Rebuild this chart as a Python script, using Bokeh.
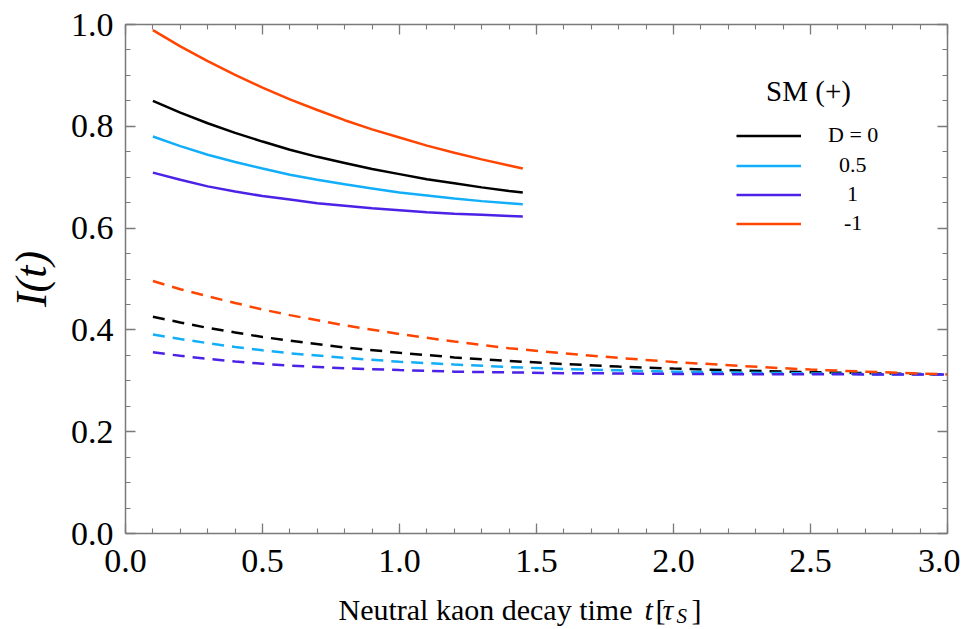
from bokeh.plotting import figure
from bokeh.layouts import column
from bokeh.models import (Range1d, LinearAxis, FixedTicker, PrintfTickFormatter,
                          CustomJSTickFormatter, Legend, LegendItem, Label)
from bokeh.embed import file_html
from bokeh.resources import INLINE

FONT = "Liberation Serif"

# ---------------- data ----------------
series_labels = ["D = 0", "0.5", "1", "-1"]
series_colors = ["#000000", "#12AEFA", "#4B22E6", "#FF4500"]

t_solid = [0.1, 0.2, 0.3, 0.4, 0.5, 0.6, 0.7, 0.8, 0.9, 1.0, 1.1, 1.2, 1.3, 1.4, 1.45]
solid_D0 = [0.850, 0.827, 0.806, 0.787, 0.770, 0.754, 0.740, 0.728, 0.716, 0.706, 0.696, 0.688, 0.680, 0.673, 0.670]
solid_D05 = [0.780, 0.761, 0.744, 0.730, 0.717, 0.705, 0.695, 0.686, 0.678, 0.670, 0.664, 0.658, 0.653, 0.649, 0.647]
solid_D1 = [0.709, 0.695, 0.682, 0.672, 0.663, 0.656, 0.649, 0.644, 0.639, 0.635, 0.631, 0.628, 0.626, 0.624, 0.623]
solid_Dm1 = [0.989, 0.957, 0.928, 0.901, 0.876, 0.853, 0.832, 0.812, 0.794, 0.778, 0.762, 0.748, 0.735, 0.723, 0.717]

t_dashed = [0.1, 0.2, 0.3, 0.4, 0.5, 0.6, 0.8, 1.0, 1.2, 1.4, 1.6, 1.8, 2.0, 2.25, 2.5, 2.75, 3.0]
dashed_D0 = [0.426, 0.4145, 0.404, 0.395, 0.386, 0.379, 0.3655, 0.355, 0.346, 0.339, 0.333, 0.328, 0.324, 0.320, 0.317, 0.3145, 0.3125]
dashed_D05 = [0.391, 0.382, 0.374, 0.3665, 0.360, 0.354, 0.345, 0.3375, 0.332, 0.327, 0.323, 0.3205, 0.318, 0.316, 0.3145, 0.313, 0.3125]
dashed_D1 = [0.356, 0.349, 0.343, 0.338, 0.3335, 0.330, 0.3245, 0.321, 0.318, 0.3165, 0.315, 0.3145, 0.3135, 0.313, 0.313, 0.3125, 0.3125]
dashed_Dm1 = [0.496, 0.480, 0.466, 0.453, 0.440, 0.429, 0.409, 0.392, 0.377, 0.364, 0.354, 0.345, 0.337, 0.329, 0.322, 0.317, 0.3125]

x_ticks = [0.0, 0.5, 1.0, 1.5, 2.0, 2.5, 3.0]
x_minor = [i / 10 for i in range(0, 31)]
y_ticks = [0.0, 0.2, 0.4, 0.6, 0.8, 1.0]
y_minor = [i / 20 for i in range(0, 21)]

legend_title = "SM (+)"
y_label = "I(t)"
x_label_main = "Neutral kaon decay time"

solid_series = [solid_D0, solid_D05, solid_D1, solid_Dm1]
dashed_series = [dashed_D0, dashed_D05, dashed_D1, dashed_Dm1]

# ---------------- main figure ----------------
p = figure(width=960, height=584, x_range=Range1d(0, 3), y_range=Range1d(0, 1),
           output_backend="svg", toolbar_location=None,
           min_border_left=125, min_border_right=13, min_border_top=24, min_border_bottom=51,
           background_fill_color="white", border_fill_color="white")
p.outline_line_color = None
p.xgrid.visible = False
p.ygrid.visible = False

AX_COLOR = "#7a7a7a"


def style_axis(ax, ticks, minor, show_labels):
    ax.ticker = FixedTicker(ticks=ticks, minor_ticks=minor)
    ax.axis_line_color = AX_COLOR
    ax.axis_line_width = 1.5
    ax.major_tick_line_color = AX_COLOR
    ax.major_tick_line_width = 1.3
    ax.minor_tick_line_color = AX_COLOR
    ax.minor_tick_line_width = 1.1
    ax.major_tick_in = 10
    ax.major_tick_out = 0
    ax.minor_tick_in = 5
    ax.minor_tick_out = 0
    if show_labels:
        ax.formatter = PrintfTickFormatter(format="%.1f")
        ax.major_label_text_font = FONT
        ax.major_label_text_font_size = "34px"
        ax.major_label_text_color = "black"
    else:
        ax.formatter = CustomJSTickFormatter(code="return ''")
        ax.major_label_text_font_size = "10px"
        ax.major_label_standoff = 0


xax = p.xaxis[0]
yax = p.yaxis[0]
style_axis(xax, x_ticks, x_minor, True)
style_axis(yax, y_ticks, y_minor, True)
xax.major_label_standoff = 16
yax.major_label_standoff = 12

yax.axis_label = y_label
yax.axis_label_text_font = FONT
yax.axis_label_text_font_style = "italic"
yax.axis_label_text_font_size = "44px"
yax.axis_label_text_color = "black"
yax.axis_label_standoff = 12

top_ax = LinearAxis()
right_ax = LinearAxis()
style_axis(top_ax, x_ticks, x_minor, False)
style_axis(right_ax, y_ticks, y_minor, False)
p.add_layout(top_ax, "above")
p.add_layout(right_ax, "right")

# ---------------- lines ----------------
solid_renderers = []
for ys, col in zip(solid_series, series_colors):
    r = p.line(t_solid, ys, line_color=col, line_width=2.5)
    solid_renderers.append(r)
for ds, col in zip(dashed_series, series_colors):
    p.line(t_dashed, ds, line_color=col, line_width=2.5, line_dash="12 8")

# ---------------- legend: one entry per legend so each label can be centred ----------------
legend_rows_y = [384.5, 354.5, 325.5, 296.5]
legend_standoffs = [27, 38, 46, 43]
for lab, r, ly, so in zip(series_labels, solid_renderers, legend_rows_y, legend_standoffs):
    lg = Legend(items=[LegendItem(label=lab, renderers=[r])],
                location=(611, ly), padding=0, margin=0, spacing=0,
                glyph_width=65, glyph_height=27, label_height=27,
                label_standoff=so, label_text_color="black",
                label_text_font=FONT, label_text_font_size="22px",
                border_line_alpha=0, background_fill_alpha=0)
    p.add_layout(lg)

p.add_layout(Label(x=683, y=443, x_units="screen", y_units="screen", text=legend_title,
                   text_font=FONT, text_font_size="29px", text_align="center",
                   text_baseline="alphabetic", text_color="black"))

# ---------------- x axis title strip (composed label: t italic, tau with subscript S) ----------------
p2 = figure(width=960, height=43, x_range=Range1d(0, 1), y_range=Range1d(0, 1),
            output_backend="svg", toolbar_location=None,
            x_axis_type=None, y_axis_type=None, min_border=0,
            background_fill_color="white", border_fill_color="white")
p2.outline_line_color = None


def xlab(x, y, txt, size, style="normal", align="left"):
    p2.add_layout(Label(x=x, y=y, x_units="screen", y_units="screen", text=txt,
                        text_font=FONT, text_font_size=size, text_font_style=style,
                        text_align=align, text_baseline="alphabetic", text_color="black"))


xlab(507, 18, x_label_main, "30px", align="right")
xlab(519, 18, "t", "30px", style="italic")
xlab(530, 18, "[", "30px")
xlab(537, 18, "τ", "30px", style="italic")
xlab(551, 12, "S", "21px", style="italic")
xlab(566, 18, "]", "30px")

open("out.html", "w").write(file_html(column(p, p2, spacing=0), INLINE))
